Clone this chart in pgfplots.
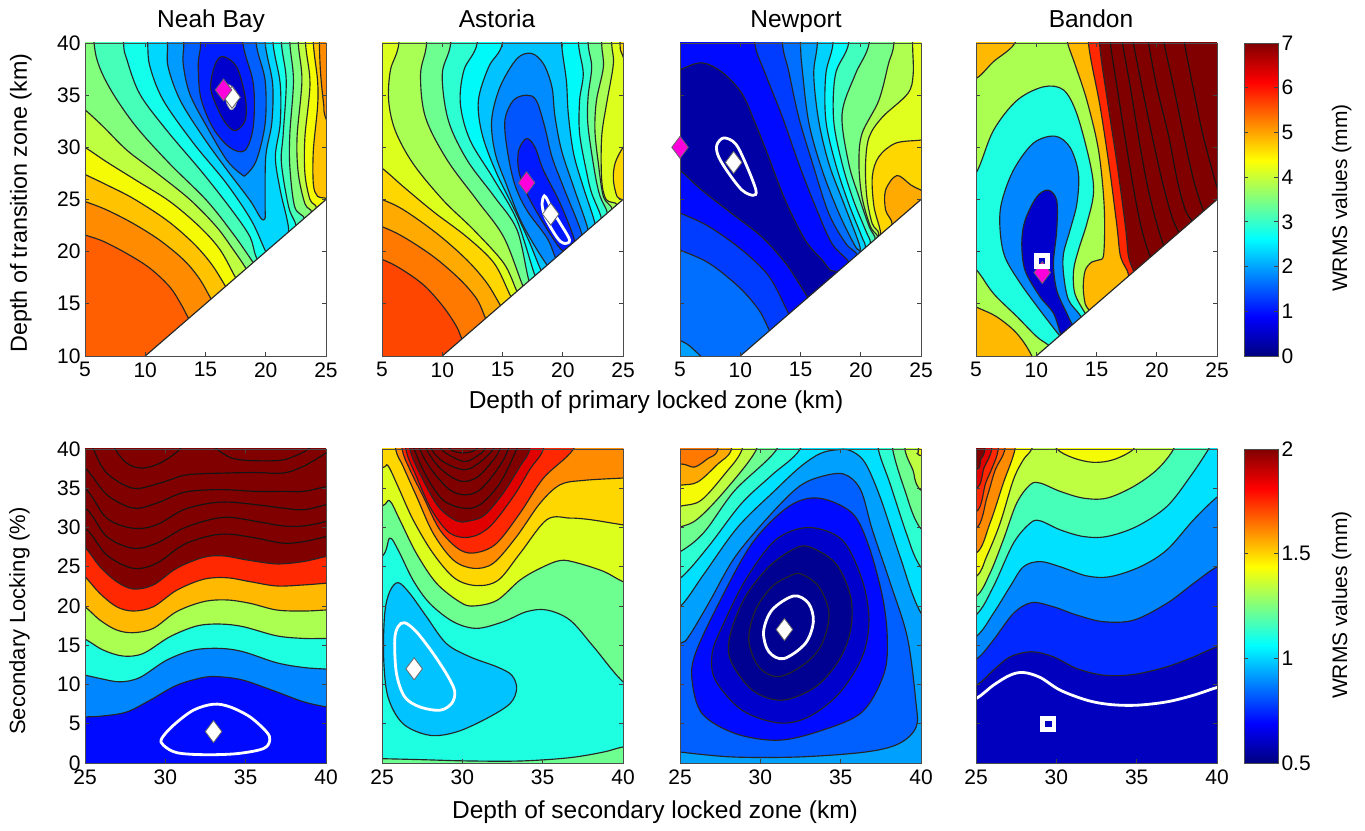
\documentclass[border=0pt]{standalone}
\usepackage{fontspec}
\setmainfont{Liberation Sans}
\usepackage{pgfplots}
\pgfplotsset{compat=1.18}
\definecolor{cN0}{RGB}{0,0,145}\definecolor{cN1}{RGB}{0,0,205}\definecolor{cB1}{RGB}{0,30,255}
\definecolor{cB2}{RGB}{0,95,255}\definecolor{cB3}{RGB}{0,155,255}\definecolor{cB4}{RGB}{0,215,255}
\definecolor{cC}{RGB}{20,255,235}\definecolor{cT}{RGB}{70,255,185}\definecolor{cG}{RGB}{130,255,125}
\definecolor{cYG}{RGB}{190,255,65}\definecolor{cY}{RGB}{245,250,5}\definecolor{cGO}{RGB}{255,195,0}
\definecolor{cO}{RGB}{255,140,0}\definecolor{cOR}{RGB}{255,95,0}
\definecolor{aY}{RGB}{220,255,30}\definecolor{aYG}{RGB}{170,255,85}\definecolor{aG}{RGB}{110,255,145}
\definecolor{aT}{RGB}{45,255,210}\definecolor{aC}{RGB}{0,250,250}\definecolor{aB4}{RGB}{0,195,255}
\definecolor{aB3}{RGB}{0,140,255}\definecolor{aB2}{RGB}{0,85,255}\definecolor{aB1}{RGB}{0,25,255}
\definecolor{aGO}{RGB}{255,215,0}\definecolor{aO2}{RGB}{255,170,0}\definecolor{aO3}{RGB}{255,120,0}\definecolor{aOR}{RGB}{255,70,0}
\definecolor{nY}{RGB}{225,255,30}\definecolor{nYG}{RGB}{175,255,80}\definecolor{nG}{RGB}{120,255,135}
\definecolor{nT}{RGB}{65,255,190}\definecolor{nC}{RGB}{10,250,250}\definecolor{nB4}{RGB}{0,210,255}
\definecolor{nB3}{RGB}{0,160,255}\definecolor{nB2}{RGB}{0,110,255}\definecolor{nB1}{RGB}{0,60,255}
\definecolor{nB0}{RGB}{0,10,255}\definecolor{nNV}{RGB}{0,0,165}
\definecolor{dDR}{RGB}{128,0,0}\definecolor{dR1}{RGB}{225,0,0}\definecolor{dR}{RGB}{255,40,0}
\definecolor{dGO}{RGB}{255,185,0}\definecolor{dYG}{RGB}{170,255,80}\definecolor{dT}{RGB}{30,255,225}
\definecolor{dC}{RGB}{0,225,255}\definecolor{dB3}{RGB}{0,135,255}\definecolor{dB1}{RGB}{0,40,255}
\definecolor{dN}{RGB}{0,0,205}\definecolor{dN2}{RGB}{0,0,190}
\definecolor{mag}{RGB}{255,0,220}
\newcommand{\BG}[1]{\addplot[fill=#1,draw=none] coordinates {(-10,-10)(60,-10)(60,60)(-10,60)};}
\newcommand{\C}[2]{\addplot[ct,fill=#1] coordinates {#2};}
\newcommand{\CL}[2]{\addplot[ct,smooth cycle,fill=#1] coordinates {#2};}
\newcommand{\Ln}[1]{\addplot[ct,draw=black!92] coordinates {#1};}
\newcommand{\WL}[1]{\addplot[wl,smooth cycle] coordinates {#1};}
\newcommand{\Tri}{\addplot[fill=white,draw=black!85,line width=1.15pt] coordinates {(10,10)(25,25)(26,25)(26,9)(10,9)(10,10)};}
\newcommand{\Dia}[3]{\addplot[only marks,mark=diamond*,mark size=11pt,mark options={fill=#1,draw=black!60,line width=.8pt}] coordinates {(#2,#3)};}
\newcommand{\Sq}[2]{\addplot[only marks,mark=square,mark size=5.6pt,mark options={draw=white,line width=4.8pt}] coordinates {(#1,#2)};}
\pgfplotsset{
 ct/.style={smooth,tension=0.55,line width=1.15pt,draw=black!85},
 wl/.style={draw=white,line width=2.8pt,tension=0.55},
 base/.style={scale only axis,width=241pt,height=313pt,anchor=south west,axis on top,enlargelimits=false,
  tick align=inside,major tick length=4pt,axis line style={black!70,line width=.9pt},tick style={black!75,line width=.8pt},
  tick label style={font=\fontsize{21}{23}\selectfont},/pgf/number format/assume math mode=true,clip marker paths=false,
  xticklabel style={yshift=-3pt},yticklabel style={xshift=-1pt}},
 toprow/.style={base,xmin=5,xmax=25,ymin=10,ymax=40,xtick={5,10,...,25},ytick={10,15,...,40}},
 botrow/.style={base,height=314pt,xmin=25,xmax=40,ymin=0,ymax=40,xtick={25,30,35,40},ytick={0,5,...,40}},
 cbar/.style={base,width=34pt,xmin=0,xmax=1,xtick=\empty,yticklabel pos=right,colormap/jet,yticklabel style={xshift=1pt}}
}
\begin{document}
\begin{tikzpicture}
\path[use as bounding box] (0,0) rectangle (1365pt,830pt);
% ---------- Neah Bay top
\begin{axis}[toprow,at={(85pt,474pt)}]
\BG{cOR}
\C{cO}{(3,22.4)(5,21.6)(6.5,21)(8.5,19.8)(10.4,18.4)(12.05,16.6)(13,14.9)(13.6,13.6)(14.4,12.2)(17,10)(30,8)(30,45)(3,45)}
\C{cGO}{(3,50)(3,25.5)(5,24.8)(6.8,24)(9,22.7)(11.2,21.1)(13.2,19.2)(14.5,17.4)(15.5,15.4)(16.3,14)(19,14)(24,18)(27,28)(25.05,32.6)(24.8,34.2)(24.55,37.1)(24.45,40)(24.4,45)}
\C{cY}{(3,50)(3,28.5)(5,27.4)(6.8,26.4)(9,25.1)(11.8,23)(14,20.8)(15.5,18.8)(16.7,16.6)(17.5,15)(20,15)(24,20)(25.3,24.6)(24.3,25.3)(23.95,26.5)(23.95,29.7)(24.3,33.9)(24.3,36.4)(23.95,40)(23.9,45)}
\C{cYG}{(3,50)(3,31.4)(5,30)(6.8,28.6)(9.3,26.8)(12.05,24.8)(14.5,22.4)(16.2,20.2)(17.5,17.5)(18.3,16)(21,18)(23.6,22.5)(24.2,24.2)(23.67,25)(23.25,27.5)(23.25,31)(23.67,36.1)(23.3,40)(23.25,45)}
\C{cG}{(3,50)(3,35.5)(5,33.6)(6.5,32)(8.5,29.7)(11,27.5)(13.7,25)(15.9,22.4)(17.3,20.2)(18.3,18.5)(19,17)(21,18.5)(23.2,22.5)(23.8,23.8)(23.25,24.6)(22.7,27.5)(22.6,31)(23,36.4)(22.7,40)(22.6,45)}
\C{cT}{(5.5,45)(5.75,40)(6.2,37.7)(7.35,35.1)(9.3,31.9)(12.05,28.4)(15.1,24.9)(17.3,21.7)(18.9,19.05)(19.6,17.8)(21,19)(22.6,22)(23.2,23.2)(22.4,24.3)(22,28.1)(22,31.3)(22.3,36.4)(22,40)(21.9,45)}
\C{cC}{(8.1,45)(8.2,40)(8.45,38.5)(9.55,35.1)(11.8,31.6)(14.8,27.5)(17.3,23.8)(18.7,21.4)(19.2,19.5)(20,18.3)(21,19.5)(22,21.4)(22.5,22.5)(21.9,24.3)(21.3,28.5)(21.45,31.3)(21.7,36.4)(21.3,40)(21.2,45)}
\C{cB4}{(10.1,45)(10.2,40)(10.4,37.7)(11.5,34.5)(14,30.4)(16.7,26.6)(18.8,23)(20,20)(20.6,19)(21.3,20.8)(21.9,22.1)(21.2,25.9)(20.8,29.1)(21.2,32.3)(21.2,36.1)(20.6,40)(20.5,45)}
\C{cB3}{(11.8,45)(11.85,40)(11.9,37.7)(12.9,34.5)(14.8,31)(16.8,27.8)(18.7,24.9)(19.6,23.2)(19.95,23.2)(19.95,24.3)(20,29.1)(20.5,32.3)(20.57,36.1)(19.95,40)(19.85,45)}
\C{cB2}{(13.2,45)(13.2,40)(13.15,38)(13.7,35.1)(15.1,32)(16.75,28.8)(18,27.4)(18.4,27.4)(19.24,28.8)(19.95,32.3)(19.95,36.4)(19.2,40)(19.1,45)}
\C{cB1}{(14.6,45)(14.6,40)(14.4,38)(14.6,34.8)(15.6,31.9)(17,30)(18.27,29.7)(18.97,32)(18.97,36.1)(18.1,40)(18,45)}
\CL{cN1}{(16.5,38.7)(17.6,37.7)(18.3,34.8)(18.3,32.6)(17.45,31.6)(16.5,32.6)(15.5,35.2)(15.5,36.7)(15.9,38.2)}
\Tri
\addplot[draw=black!40,fill=white,line width=.8pt,smooth cycle] coordinates {(16.9,36)(17.6,35.2)(17.5,34)(17.1,33.6)(16.7,34.5)};
\Dia{white}{17.2}{34.8}
\Dia{mag}{16.5}{35.5}
\end{axis}
% ---------- Astoria top
\begin{axis}[toprow,at={(382pt,474pt)},yticklabels={}]
\BG{aOR}
\C{aO3}{(3,20)(5,19.26)(6.5,18.4)(8.46,16.8)(10.1,14.7)(11.2,12.8)(11.6,11.7)(12.2,10.5)(16,9)(30,8)(30,45)(3,45)}
\C{aO2}{(3,23.2)(5,22.4)(6.8,21.4)(9.3,19.5)(11.5,17.3)(12.9,15.4)(13.6,13.6)(14.2,12.5)(17,10)(30,8)(30,45)(3,45)}
\C{aGO}{(3,25.8)(5,25)(6.8,24)(9.6,21.7)(12.05,19.2)(13.7,17)(14.8,14.9)(15.4,13.8)(18,11)(30,8)(30,45)(3,45)}
\C{aY}{(3,50)(3,29.5)(5,28)(6.8,26.2)(9.3,23.8)(12.05,21.4)(14.3,18.9)(15.65,15.8)(16.3,14.6)(20,17)(24,22)(25.4,24.4)(24.9,25)(24.5,25.3)(24.2,26.9)(24.35,28.5)(25.03,30.05)(26,31.5)(26.5,35)(25.5,37.5)(24.9,39)(24.75,40)(24.7,45)}
\C{aYG}{(6.3,45)(6.4,40)(5.7,37.4)(5.55,34.5)(6.1,31.6)(7.6,28.4)(10.1,24.9)(12.6,22.1)(15.1,18.9)(16.2,16.2)(16.8,15.2)(20,17)(24,23)(24.5,24.5)(23.6,25)(23.23,26.9)(23.23,31)(23.64,34.2)(24.2,38)(24.06,40)(24,45)}
\C{aG}{(8.6,45)(8.7,40)(8.2,37)(8.6,32.9)(10.4,28.8)(12.9,24.9)(15.1,21.4)(16.7,16.7)(17.3,15.7)(20,17.5)(23.7,22.8)(24.1,24.1)(23.37,25.3)(22.95,28.5)(22.67,31.65)(22.8,34.5)(23.37,37.7)(23.23,40)(23.2,45)}
\C{aT}{(10.6,45)(10.7,40)(10,37)(10.5,32.6)(12.05,28.8)(14.3,25.3)(16.2,22.1)(17.2,17.2)(17.8,16.2)(20,18)(23.3,22.6)(23.7,23.7)(23.1,25.3)(22.67,27.5)(22.1,32)(22.1,34.8)(22.4,37.7)(22.1,40)(22,45)}
\C{aC}{(12.9,45)(12.9,40)(11.8,37.4)(11.5,34.2)(12.3,30.7)(14.3,26.9)(16.2,23)(17.7,17.7)(18.3,16.7)(20,18.5)(22.8,22.3)(23.2,23.2)(22.4,25.6)(22,27.5)(21.4,31.3)(21.4,34.5)(21.7,37.1)(21.3,40)(21.2,45)}
\C{aB4}{(15.1,45)(15,40)(13.85,37.7)(13,34.5)(13.3,31.3)(14.4,27.8)(16,24)(17.2,21)(18.2,18.2)(18.8,17.2)(20.5,19)(22.3,22)(22.67,22.67)(21.7,26.2)(20.9,29.4)(20.46,33.2)(20.3,36.4)(19.9,40)(19.8,45)}
\C{aB3}{(19.3,17.7)(21,20)(21.8,21.4)(22.1,22.1)(20.9,26.2)(19.9,29.7)(19.35,33)(19.1,35.8)(18.4,38)(17.4,39)(16.2,38.5)(14.8,35.8)(14.1,32.6)(14.4,29.4)(15.4,26.2)(16.5,23)(17.7,20.5)(18.7,18.7)(19.3,17.7)}
\C{aB2}{(20,18)(21.2,20.5)(21.6,21.6)(20.05,26.2)(19.1,29.1)(18.5,32)(17.8,34.5)(17,35)(15.9,34.5)(15.2,32.6)(15.4,29.7)(16,26.5)(17,24)(18.7,21.3)(19.4,19.4)(20,18)}
\C{aB1}{(20.8,19.8)(21,21)(19.8,24.6)(18.4,27.8)(17.7,30)(17,30.85)(16.34,29.7)(16.34,27.8)(17,25.6)(18.25,23)(19.65,20.5)(20.2,20)(20.8,19.8)}
\WL{(18.47,25.35)(18.75,24.9)(19.1,24)(19.8,22.7)(20.57,21.1)(20.07,20.8)(19.5,21.4)(18.55,23.3)(18.28,24.6)}
\Tri
\Dia{mag}{17}{26.6}
\Dia{white}{19}{23.6}
\end{axis}
% ---------- Newport top
\begin{axis}[toprow,at={(680pt,474pt)},yticklabels={}]
\BG{aO2}
\C{aGO}{(3,50)(3,10)(5,5)(15,8)(19,15)(22,21.5)(22.6,22.7)(22.06,24)(22.06,25.9)(23,27.3)(24.15,26.4)(25,25.9)(26,25.5)(30,30)(30,50)}
\C{nY}{(3,50)(3,10)(5,5)(15,8)(19,15)(21.2,20.8)(21.65,21.75)(21.1,24.3)(20.96,27.2)(21.5,29.1)(22.9,30.4)(25,30.7)(26,31)(30,32)(30,50)}
\C{nYG}{(3,50)(3,10)(5,5)(15,8)(19,15)(21,20)(21.5,21.7)(20.95,22.7)(20.5,25.25)(20.4,28.45)(20.7,31)(21.8,32.9)(23.9,35.15)(24.35,37)(24.3,40)(24.3,45)}
\C{nG}{(3,50)(3,10)(5,5)(15,8)(19,15)(20.9,20)(21.4,21.4)(20.8,22.4)(20.1,25.25)(19.85,28.45)(20.1,31.3)(21.5,34.5)(22.3,38)(22.75,40)(22.8,45)}
\C{nT}{(3,50)(3,10)(5,5)(15,8)(19,15)(20.7,19.8)(21.2,21.2)(20.7,22.4)(19.85,25.25)(19,28.45)(18.45,33.2)(19.55,37)(20.7,40)(20.8,45)}
\C{nC}{(3,50)(3,10)(5,5)(15,8)(19,15)(20.3,19.4)(20.8,20.8)(20.4,22.05)(19.4,24.9)(18.45,28.45)(17.75,32.6)(17.9,37)(19,40)(19.1,45)}
\C{nB4}{(3,50)(3,10)(5,5)(15,8)(19,15)(20,19)(20.4,20.4)(20.1,21.4)(19,24.6)(17.9,28.45)(17.1,32.6)(17.1,37)(17.7,40)(17.8,45)}
\C{nB3}{(3,50)(3,10)(5,5)(15,8)(18.8,15)(19.6,18.5)(19.9,19.9)(19.85,20.8)(18.6,24.6)(17.35,28.45)(16.5,32.6)(16.1,37)(16.4,40)(16.5,45)}
\C{nB2}{(3,50)(3,13)(4,12.2)(5,11.5)(5.7,11.05)(6.7,10)(8,8.5)(15,8)(18.7,15)(19.6,19)(20,20)(19.55,20.5)(18.2,23.65)(16.8,27.8)(15.7,32.3)(15.15,37.4)(15,40)(15,45)}
\C{nB1}{(3,45)(3,21)(5,20.15)(7.4,18.9)(9.9,16.6)(11.55,14.4)(12.4,12.5)(13,11.3)(15,11)(18.5,16)(19.2,18.6)(19.7,19.7)(18.75,20.8)(17.35,23.65)(16,28.45)(14.85,32.9)(14,37.4)(13.5,40)(13.5,45)}
\C{nB0}{(3,45)(3,24.5)(5,23.7)(7.4,22.4)(10.15,20.15)(12.4,17.6)(14,14.1)(14.6,13)(16,13)(18,16)(18.7,18)(19,19)(17.6,20.8)(16.25,24.3)(14.85,28.45)(13.5,32.9)(12.1,37)(11.2,40)(11,45)}
\C{nNV}{(3,29.5)(5,27.8)(6.8,25.9)(9.3,23.65)(11.8,21.4)(13.75,18.9)(14.85,17)(15.55,15.7)(16.2,14.5)(17.5,16)(18.1,17.5)(18,18.1)(17.5,18.2)(16.8,19.2)(15.4,21.1)(13.75,24.9)(12.35,29.1)(11.25,32.3)(10.15,35.15)(8.5,37.2)(6.8,38.1)(5,37.45)(3,36.5)}
\WL{(8.63,30.9)(9.6,30.35)(10.45,28.45)(11.3,25.9)(11.05,25.4)(10.15,25.9)(9.05,27.5)(8.2,29.1)(8.05,30.2)}
\Tri
\Dia{white}{9.45}{28.55}
\Dia{mag}{5}{30}
\end{axis}
% ---------- Bandon top
\begin{axis}[toprow,at={(976pt,474pt)},yticklabels={}]
\BG{dDR}
\Ln{(16.14,41)(16.14,40)(16.7,35.8)(17.5,30)(18.2,25.25)(18.77,22.05)(19.46,19.5)(20,18.5)}
\Ln{(17.16,41)(17.16,40)(17.8,35.8)(18.63,30)(19.3,25.9)(20,22.7)(20.57,20.6)(21,19.5)}
\Ln{(18.07,41)(18.07,40)(18.77,35.8)(19.74,30.4)(20.57,26.2)(21.26,23.35)(21.8,21.9)(22.3,21)}
\Ln{(19.32,41)(19.32,40)(20,35.8)(21,31)(21.7,26.85)(22.37,24)(22.9,23)(23.4,22.2)}
\Ln{(20.6,41)(20.6,40)(21.4,35.8)(22.2,31.3)(23.06,26.85)(23.84,24)(24.2,23)}
\Ln{(22.3,41)(22.3,40)(22.9,36.4)(23.75,31.6)(24.6,27.8)(25,26.2)(25.5,25)}
\C{dR}{(3,50)(3,10)(5,5)(15,8)(17,13)(17.9,17.5)(18.1,18)(17.66,19.5)(17.4,22.4)(16.7,28.45)(15.86,34.8)(15.25,40)(15.2,45)}
\C{dGO}{(3,50)(3,10)(5,5)(14,8)(17.2,16)(17.66,17.75)(17,19.5)(16.7,22.4)(16.1,27.8)(15.3,33.9)(14.33,40)(14.3,45)}
\C{dYG}{(10.5,7)(9.63,10)(8.38,12.17)(6.7,13.77)(5,14.7)(3,15.8)(2,25)(3,36)(5,36.6)(6.44,38.2)(8.24,40)(9,43)(12,43)(12.6,40)(13.2,38)(14.2,34.5)(15.17,29.7)(15.64,24.3)(15.6,19.8)(15.17,19.2)(14.6,19)(14.06,18.2)(13.9,16.6)(14.06,15)(14.39,14.4)(15,13.3)(13,9)}
\C{dT}{(12,10)(11,11.05)(10.04,11.85)(8.4,13.77)(6.44,16)(5,18.3)(3,20.3)(2,24)(3,24.5)(5,27.5)(6.44,31.6)(8.4,34.5)(10.6,35.8)(12.26,35.5)(13.37,33.2)(14.47,28.45)(14.75,25.6)(14.2,22.7)(13.5,20.15)(13.1,18.2)(13.2,16)(14.06,14.1)(14.7,13)(13,9)}
\C{dB3}{(13,10)(12,11.85)(11.56,12.5)(10.3,14.4)(8.66,17)(7.4,19.5)(7,22.05)(7.1,24.6)(8.1,27.8)(9.76,30.4)(11.56,31.07)(12.8,30)(13.5,27.5)(13.37,24.6)(12.8,22.05)(12.26,19.8)(12.26,17.9)(12.67,15.4)(13.64,13.9)(14.2,12.5)(13,10)}
\C{dN}{(12.5,11)(12,12.2)(11.43,14.1)(10.3,15.7)(9.07,18.2)(8.8,20.8)(9.07,23)(10.04,25.25)(11,25.9)(11.7,24.9)(11.7,22.05)(11.43,18.9)(11.7,16.3)(12.53,14.1)(12.95,13.1)(13.5,12)(12.5,11)}
\Tri
\Dia{mag}{10.5}{18}
\Sq{10.5}{19.1}
\end{axis}
% ---------- Neah Bay bottom
\begin{axis}[botrow,at={(85pt,67pt)}]
\BG{dDR}
\Ln{(23,31)(25,29.9)(26.35,26.5)(28,24.8)(29.46,25.45)(31.12,27.8)(32.78,28.94)(34,29.15)(35.68,28.64)(37.34,28)(38.6,28.2)(40,28.85)(42,30)}
\Ln{(23,33)(25,32.47)(26.35,28.85)(28,27.36)(29.46,28)(31.12,29.9)(32.78,31)(34,31.3)(35.68,30.77)(37.34,30.2)(38.6,30.2)(40,30.77)(42,32)}
\Ln{(23,37)(25,35)(26.35,31.2)(28,29.9)(29.46,30.34)(31.12,32.26)(32.78,33.1)(34,33.23)(35.68,32.9)(37.34,32.47)(38.6,32.26)(40,32.9)(42,34)}
\Ln{(23,40)(25,37.57)(26.35,34.2)(28,32.47)(29.46,33.1)(31.12,34.47)(32.78,34.8)(34,34.8)(35.68,34.6)(37.34,34.6)(38.6,34.6)(40,35.2)(42,36)}
\Ln{(25.2,42)(25.52,40)(26.35,36.94)(28,35)(29.67,35.66)(31.33,36.7)(33.82,36.94)(35.68,37)(37.34,36.94)(38.6,37.8)(40,39.5)(41,41)}
\Ln{(26.5,42)(26.87,40)(27.6,38.2)(28.53,37.57)(29.67,38.2)(30.91,40)(31.3,42)}
\Ln{(32.8,41)(33.2,40)(34.2,38.8)(35.7,38.5)(37.3,38.6)(38.4,39.4)(38.9,40)(39.4,41)}
\C{dR}{(23,-5)(23,32)(25,27.5)(25.93,25)(26.97,23.1)(28,22.17)(29.25,22.68)(30.7,24.8)(32.37,26.2)(33.6,26.38)(35.06,25.87)(36.93,25.36)(38.6,25.66)(40,26.3)(42,27)(42,-5)}
\C{dGO}{(23,-5)(23,28)(25,23.74)(25.93,21.6)(26.97,19.9)(28,19.36)(29.25,19.9)(30.7,22)(32.37,23.4)(33.82,23.6)(35.27,23.1)(36.93,22.55)(38.6,22.68)(40,22.9)(42,23.2)(42,-5)}
\C{dYG}{(23,-5)(23,23)(25,19.9)(25.93,18.2)(26.97,16.94)(28,16.6)(29.25,17.15)(30.7,19.28)(32.37,20.55)(33.82,20.77)(35.27,20.34)(36.93,19.49)(38.6,19.36)(40,19.49)(42,19.7)(42,-5)}
\C{dT}{(23,-5)(23,18)(25,15.79)(26.14,14.38)(27.39,13.62)(28.63,13.96)(30.29,16.09)(31.95,17.45)(33.4,17.7)(34.85,17.36)(36.93,16.2)(38.6,15.87)(40,15.87)(42,15.9)(42,-5)}
\C{dB3}{(23,-5)(23,12)(25,11.19)(25.93,10.77)(27.18,10.34)(28.42,10.9)(30.08,13.1)(31.74,14.38)(33.4,14.6)(34.85,14.17)(36.93,12.77)(38.6,12.17)(40,11.96)(42,11.7)(42,-5)}
\C{nB0}{(23,-5)(23,5.8)(25,5.87)(26.14,6)(27.6,6.5)(29.05,8)(30.7,9.9)(32.37,10.9)(33.4,10.98)(34.85,10.55)(36.93,9.06)(38.6,7.8)(40,7.15)(42,6.5)(42,-5)}
\WL{(32.99,7.49)(34.02,7.15)(35.27,5.87)(36.3,3.96)(36.5,2.9)(36.1,1.83)(34.44,1.19)(32.37,1.06)(30.7,1.32)(29.88,2.26)(29.77,3.1)(30.5,4.8)(31.74,6.72)}
\Dia{white}{33}{4}
\end{axis}
% ---------- Astoria bottom
\begin{axis}[botrow,at={(382pt,67pt)},yticklabels={}]
\BG{dDR}
\Ln{(26.8,42)(27,40)(27.77,36.5)(28.8,33.5)(30.05,32.47)(31.1,32.9)(32.34,35.66)(33.38,40)(33.6,42)}
\Ln{(27.2,42)(27.35,40)(28.08,37.36)(29.22,34.8)(30.16,34.17)(31.1,34.8)(32.24,37.57)(32.86,40)(33,42)}
\Ln{(27.6,42)(27.77,40)(28.5,37.8)(29.43,36.3)(30.16,35.87)(30.99,36.5)(31.93,38.6)(32.34,40)(32.5,42)}
\Ln{(27.9,42)(28.08,40)(28.8,38.4)(30.05,37.36)(30.89,38)(31.93,40)(32.1,42)}
\Ln{(28.4,42)(28.7,40)(29.33,39.06)(30.16,38.4)(30.89,39.06)(31.4,40)(31.7,42)}
\Ln{(28.9,42)(29.22,40)(30.05,39.5)(30.89,40)(31.3,42)}
\C{dR1}{(23,-5)(23,50)(26.5,45)(26.73,40)(27.45,36.5)(28.5,32.68)(29.64,30.85)(30.47,30.85)(31.4,31.6)(32.55,34.4)(33.59,37.8)(34.2,40)(34.5,45)(42,50)(42,-5)}
\C{dR}{(23,-5)(23,50)(26.3,45)(26.48,40)(27.14,36.5)(28.08,32.26)(29.22,29.28)(30.47,28.77)(31.72,30.13)(33.18,33.96)(34.2,37.4)(35.05,40)(35.6,45)(42,50)(42,-5)}
\C{cO}{(23,-5)(23,50)(26,45)(26.25,40)(26.73,37.4)(27.56,33.96)(28.6,29.7)(29.85,27.15)(30.89,26.8)(32.14,28)(33.59,31.83)(35.05,36.3)(36.92,40)(38,45)(42,50)(42,-5)}
\C{aGO}{(23,-5)(23,50)(25.6,45)(25.85,40)(26.31,37.8)(27.14,34)(28.18,29.28)(29.43,25.87)(30.68,24.8)(31.93,25.45)(33.38,28.85)(34.84,33.1)(36.09,35.45)(37.54,36)(40,36.3)(42,36.5)(42,-5)}
\C{aY}{(23,-5)(23,37)(25,37.6)(25.37,37.87)(26,35.2)(26.93,31)(28.18,26.7)(29.53,23.53)(30.89,22.6)(32.24,23.3)(33.59,26.7)(35.26,31)(36.7,31.2)(37.96,31)(40,30.34)(42,29.8)(42,-5)}
\C{aG}{(23,-5)(23,31)(25,32.7)(25.48,33.4)(26.1,31)(27.14,26.7)(28.39,22.9)(29.85,20.5)(30.68,20)(32.14,20.7)(33.59,23.3)(34.84,24.8)(36.09,25.8)(37.13,25.5)(38.8,24.4)(40,23.1)(42,21.5)(42,-5)}
\C{dT}{(23,0.6)(23,24)(25,26.3)(25.48,28.64)(26,27.15)(26.93,23.3)(27.97,20.34)(29.43,18)(30.89,17.15)(32.55,18)(34,19.28)(35.26,19.49)(36.7,18.2)(38.17,14.8)(40,10.34)(42,7.5)(42,2.6)(40,2.04)(38.8,1.4)(36.7,.68)(33.7,.26)(30.4,.26)(27.35,.43)(25,.55)}
\CL{aB4}{(26,22.98)(25.48,21.83)(25.17,19.06)(25.1,13.53)(25.37,8.43)(26.31,5)(27.97,3.53)(29.64,3.96)(31.5,5.66)(32.97,7.57)(33.38,9.5)(33.07,11.2)(32.14,12.26)(30.47,13.53)(29,15.23)(27.77,18.64)(26.73,21.6)}
\WL{(26.41,17.87)(26,17.36)(25.79,15.66)(25.9,11.4)(26.41,8.43)(27.35,7.15)(28.6,6.72)(29.33,7.57)(29.53,9.06)(29.12,10.98)(28.18,13.96)(27.14,16.72)}
\Dia{white}{27}{12}
\end{axis}
% ---------- Newport bottom
\begin{axis}[botrow,at={(680pt,67pt)},yticklabels={}]
\addplot[fill=aO3,draw=none] coordinates {(-10,-10)(60,-10)(60,60)(-10,60)};
\C{aO2}{(23,-5)(23,37.5)(25,38.1)(25.9,37.7)(26.74,38.8)(27.36,39.9)(28,45)(42,45)(42,-5)}
\C{cY}{(23,-5)(23,34.7)(25,35.37)(26.1,35.8)(27.36,38.1)(28.2,39.9)(28.8,45)(42,45)(42,-5)}
\C{cYG}{(23,-5)(23,31.8)(25,32.7)(26.3,33.45)(27.8,36.85)(28.86,39.9)(29.5,45)(39.6,45)(39.83,39.9)(39.9,39.2)(42,36)(42,-5)}
\C{aG}{(23,-5)(23,29)(25,30.06)(26.1,31.1)(27.8,34.7)(29.75,39.9)(30.5,45)(38.7,45)(39,39.9)(39.5,37.3)(39.9,34.9)(42,30)(42,-5)}
\C{aT}{(23,-5)(23,25)(25,26.9)(26.5,29.4)(28.4,34.7)(31,39.9)(32,45)(38,45)(38.24,39.9)(39,34.7)(39.9,30.06)(42,25)(42,-5)}
\C{dC}{(23,-5)(23,21)(25,23.5)(26.74,27.5)(28.8,33)(30.7,36.65)(32.45,39.9)(33.5,45)(37,45)(37.35,39.9)(38.07,35.6)(39.1,29.2)(39.9,25.2)(42,19)(42,-5)}
\C{nB3}{(23,-5)(23,17)(25,19.9)(26.5,24.1)(28.6,30.06)(30.9,34.7)(32.47,37.7)(33.7,39.4)(34.75,39.9)(35.6,39.8)(36.5,38.3)(37.45,33.9)(38.7,26.25)(39.9,19.45)(42,13)(42,-5)}
\C{cB2}{(23,2.3)(23,13)(25,15.2)(25.52,16.04)(26.77,20.3)(28.43,26.26)(30.7,31.8)(32.4,35.2)(33.75,36.47)(35.2,36.8)(36.24,34.8)(36.97,29.7)(38.1,22.85)(39.15,16)(39.67,8)(39.7,4.6)(38.63,2.47)(36.55,1.4)(32.4,.77)(28.24,.77)(25,1.4)}
\CL{nB0}{(27.41,20.34)(29.49,28)(31.77,32.68)(33.64,33.74)(35.72,31.83)(36.76,27.57)(37.6,21.2)(37.9,16.04)(37.7,11.4)(36.34,6.5)(33.85,4.17)(31.15,2.9)(28.45,3.74)(26.37,6.3)(25.75,10.55)(25.96,13.96)}
\CL{dN}{(30.94,28.4)(33,30)(35.1,28.4)(36.34,23.3)(36.76,18.2)(36.34,13.5)(34.9,8.85)(33,5.87)(31.15,5.1)(28.86,6.72)(27.2,10.55)(27,13.96)(27.62,17.36)(29.07,23.3)}
\CL{cN0}{(33,27.57)(34.68,25.45)(35.62,21.2)(35.62,16.94)(34.9,13.1)(33.44,9.7)(31.36,8)(29.5,9.28)(28.14,13.1)(28.14,16.5)(29.07,21.2)(30.53,25)(31.98,27.15)}
\CL{cN0}{(29.7,19.5)(30.73,22.47)(31.77,23.75)(32.5,24.1)(33.64,22.47)(34.27,19.06)(33.85,15.23)(32.8,12.68)(31.15,11)(29.9,12.26)(29.28,15.66)}
\WL{(32.08,21.28)(33,20.34)(33.3,18)(32.8,15.23)(31.46,13.3)(30.53,14.17)(30.2,16.7)(30.73,19.5)}
\Dia{white}{31.5}{17}
\end{axis}
% ---------- Bandon bottom
\begin{axis}[botrow,at={(976pt,67pt)},yticklabels={}]
\BG{dDR}
\C{dR1}{(23,-5)(23,38)(25,37.36)(25.3,38.7)(25.56,40)(25.8,45)(42,45)(42,-5)}
\C{dR}{(23,-5)(23,36)(25,35)(25.5,37.6)(25.98,40)(26.2,45)(42,45)(42,-5)}
\C{cOR}{(23,-5)(23,33)(25,32)(25.6,35.66)(26,37.57)(26.39,40)(26.6,45)(42,45)(42,-5)}
\C{cO}{(23,-5)(23,31)(25,29.9)(25.7,33.96)(26.2,37.36)(26.8,40)(27,45)(42,45)(42,-5)}
\C{cY}{(23,-5)(23,27)(25,26.72)(25.87,30.55)(26.7,35.66)(27.43,40)(27.7,45)(42,45)(42,-5)}
\C{cYG}{(23,-5)(23,22)(25,23.74)(25.66,26.3)(26.5,30.55)(27.33,36.1)(27.95,38.64)(28.47,40)(29,43)(29.6,42)(30.03,40)(31.07,38.85)(32.31,38.3)(33.56,38.64)(34.81,40)(35.2,42)(42,45)(42,-5)}
\C{cT}{(23,-5)(23,19)(25,21.2)(25.87,24.17)(26.7,28.43)(27.53,33.1)(28.37,35.45)(28.99,35.66)(30.24,34.6)(31.69,33.74)(33.14,33.74)(34.81,35.23)(36.26,37.36)(37.3,40)(37.8,43)(42,45)(42,-5)}
\C{dC}{(23,-5)(23,16.5)(25,18.85)(26.08,22.47)(27.33,28)(28.37,30.55)(28.99,30.85)(30.24,29.7)(31.69,28.85)(33.14,28.85)(35,30.13)(36.88,32.68)(38.34,36.5)(39.48,40)(40,42)(42,45)(42,-5)}
\C{dB3}{(23,-5)(23,14)(25,16.09)(26.08,19.06)(27.12,22.47)(27.95,25)(28.99,25.66)(30.24,25)(31.9,23.83)(33.35,23.74)(35.22,25)(36.88,27.15)(38.55,31)(40,33.87)(42,37)(42,-5)}
\C{dB1}{(23,-5)(23,11)(25,13.19)(26.08,15.66)(27.33,19.06)(28.47,20.43)(29.82,19.9)(31.27,18.85)(32.94,18)(34.81,18.2)(36.88,20.34)(38.55,22.9)(40,25)(42,27)(42,-5)}
\C{dN2}{(23,-5)(23,8.5)(25,9.91)(26.08,11.83)(27.12,13.53)(28.47,14.17)(29.82,13.53)(31.27,12.04)(32.94,11.19)(34.81,11.28)(36.88,12.26)(38.55,13.53)(40,14.8)(42,16)(42,-5)}
\addplot[draw=white,line width=2.8pt,smooth,tension=0.55] coordinates {(23.5,7)(25,8.2)(26.08,9.91)(27.12,11.19)(27.95,11.53)(28.99,10.9)(30.24,9.28)(31.9,8)(33.35,7.45)(35,7.36)(36.88,7.79)(38.55,8.64)(40,9.62)(41,10)};
\Sq{29.5}{4.95}
\end{axis}
% ---------- colour bars
\begin{axis}[cbar,at={(1244pt,474pt)},ymin=0,ymax=7,ytick={0,1,...,7}]
\addplot[surf,shader=interp,mesh/rows=2,point meta=y] coordinates {(0,0) (1,0) (0,7) (1,7)};
\end{axis}
\begin{axis}[cbar,height=314pt,at={(1244pt,67pt)},ymin=0.5,ymax=2,ytick={0.5,1,1.5,2}]
\addplot[surf,shader=interp,mesh/rows=2,point meta=y] coordinates {(0,0.5) (1,0.5) (0,2) (1,2)};
\end{axis}
% ---------- texts
\def\lab{\fontsize{24.5}{26}\selectfont}
\node[font=\lab,anchor=base] at (211pt,802pt) {Neah Bay};
\node[font=\lab,anchor=base] at (497pt,802pt) {Astoria};
\node[font=\lab,anchor=base] at (796pt,802pt) {Newport};
\node[font=\lab,anchor=base] at (1091pt,802pt) {Bandon};
\node[font=\fontsize{23.3}{25}\selectfont,rotate=90,anchor=base] at (27pt,627pt) {Depth of transition zone (km)};
\node[font=\fontsize{22}{24}\selectfont,rotate=90,anchor=base] at (25pt,209pt) {Secondary Locking (\%)};
\node[font=\lab,anchor=base] at (656pt,421pt) {Depth of primary locked zone (km)};
\node[font=\lab,anchor=base] at (655pt,12pt) {Depth of secondary locked zone (km)};
\node[font=\fontsize{21}{23}\selectfont,rotate=90,anchor=base] at (1347pt,632pt) {WRMS values (mm)};
\node[font=\fontsize{21}{23}\selectfont,rotate=90,anchor=base] at (1347pt,225pt) {WRMS values (mm)};
\end{tikzpicture}
\end{document}
